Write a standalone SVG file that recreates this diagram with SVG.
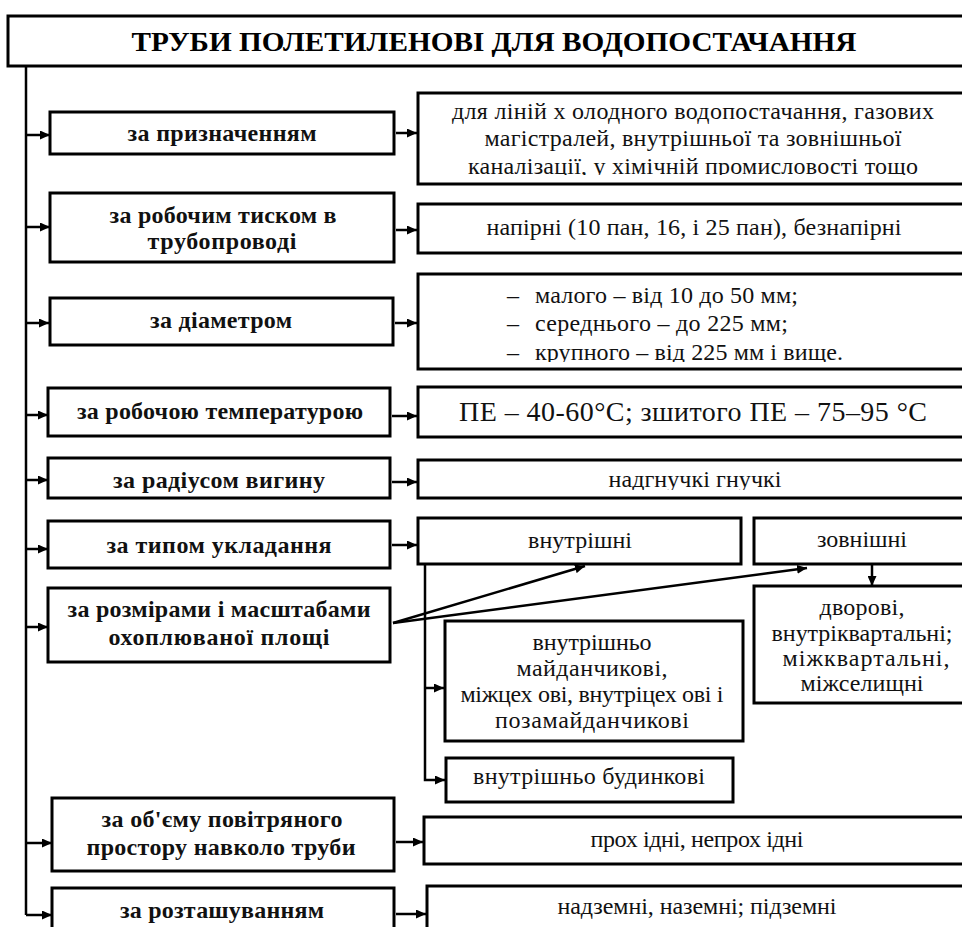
<svg xmlns="http://www.w3.org/2000/svg" width="962" height="927" viewBox="0 0 962 927">
<style>
.box{fill:#fff;stroke:#000;stroke-width:3}
.lb{font-family:"Liberation Serif","Times New Roman",serif;font-weight:bold;font-size:24px;text-anchor:middle;fill:#111}
.rt{font-family:"Liberation Serif","Times New Roman",serif;font-size:24px;text-anchor:middle;fill:#111}
.tt{font-family:"Liberation Serif","Times New Roman",serif;font-weight:bold;font-size:27px;text-anchor:middle;fill:#000}
.conn{stroke:#000;stroke-width:2.5;fill:none}
.arr{stroke:#000;stroke-width:2.5;fill:none;marker-end:url(#ah)}
</style>
<defs>
<marker id="ah" markerUnits="userSpaceOnUse" markerWidth="10" markerHeight="9" refX="10" refY="4.5" orient="auto">
<path d="M0,0 L10,4.5 L0,9 z" fill="#000"/>
</marker>
<clipPath id="c1"><rect x="418" y="93" width="560" height="82"/></clipPath>
<clipPath id="c3"><rect x="418" y="274" width="560" height="88"/></clipPath>
<clipPath id="c5"><rect x="418" y="460" width="560" height="30"/></clipPath>
</defs>
<rect width="962" height="927" fill="#fff"/>

<g id="title">
<rect class="box" x="8" y="16" width="970" height="50"/>
<text class="tt" x="494" y="51" textLength="725" lengthAdjust="spacingAndGlyphs">ТРУБИ ПОЛЕТИЛЕНОВІ ДЛЯ ВОДОПОСТАЧАННЯ</text>
</g>

<g id="connectors">
<path class="conn" d="M26,66 V915"/>
<path class="arr" d="M26,135 H50"/>
<path class="arr" d="M26,227 H50"/>
<path class="arr" d="M26,323 H49"/>
<path class="arr" d="M26,415 H48"/>
<path class="arr" d="M26,480 H48"/>
<path class="arr" d="M26,549 H48"/>
<path class="arr" d="M26,627 H48"/>
<path class="arr" d="M26,843 H52"/>
<path class="arr" d="M26,915 H52"/>
<path class="arr" d="M396,133 H417"/>
<path class="arr" d="M396,230 H417"/>
<path class="arr" d="M395,323 H417"/>
<path class="arr" d="M392,416 H417"/>
<path class="arr" d="M392,482 H417"/>
<path class="arr" d="M392,545 H417"/>
<path class="arr" d="M396,842 H423"/>
<path class="arr" d="M396,914 H426"/>
<path class="arr" d="M393,623 L585,566"/>
<path class="arr" d="M393,623 L807,568"/>
<path class="arr" d="M425,564 V780 H445"/>
<path class="arr" d="M425,688 H444"/>
<path class="arr" d="M872,564 V586"/>
</g>

<g id="l1"><rect class="box" x="50" y="112" width="344" height="42"/>
<text class="lb" x="222" y="141" textLength="189" lengthAdjust="spacing">за призначенням</text></g>
<g id="l2"><rect class="box" x="50" y="193" width="344" height="69"/>
<text class="lb" x="223" y="223" textLength="227" lengthAdjust="spacing">за робочим тиском в</text>
<text class="lb" x="222" y="249" textLength="149" lengthAdjust="spacing">трубопроводі</text></g>
<g id="l3"><rect class="box" x="50" y="298" width="343" height="47"/>
<text class="lb" x="221" y="328" textLength="142" lengthAdjust="spacing">за діаметром</text></g>
<g id="l4"><rect class="box" x="48" y="388" width="342" height="48"/>
<text class="lb" x="220" y="419" textLength="286" lengthAdjust="spacing">за робочою температурою</text></g>
<g id="l5"><rect class="box" x="48" y="458" width="342" height="40"/>
<text class="lb" x="219" y="488" textLength="212" lengthAdjust="spacing">за радіусом вигину</text></g>
<g id="l6"><rect class="box" x="48" y="521" width="342" height="47"/>
<text class="lb" x="219" y="553" textLength="225" lengthAdjust="spacing">за типом укладання</text></g>
<g id="l7"><rect class="box" x="48" y="588" width="342" height="74"/>
<text class="lb" x="219" y="617" textLength="303" lengthAdjust="spacing">за розмірами і масштабами</text>
<text class="lb" x="219" y="645" textLength="221" lengthAdjust="spacing">охоплюваної площі</text></g>
<g id="l8"><rect class="box" x="52" y="798" width="342" height="73"/>
<text class="lb" x="222" y="827" textLength="241" lengthAdjust="spacing">за об'єму повітряного</text>
<text class="lb" x="221" y="855" textLength="269" lengthAdjust="spacing">простору навколо труби</text></g>
<g id="l9"><rect class="box" x="52" y="888" width="342" height="60"/>
<text class="lb" x="222" y="918" textLength="204" lengthAdjust="spacing">за розташуванням</text></g>

<g id="r1"><rect class="box" x="418" y="93" width="552" height="91"/>
<g clip-path="url(#c1)">
<text class="rt" x="693" y="119" textLength="482" lengthAdjust="spacing">для ліній х олодного водопостачання, газових</text>
<text class="rt" x="693" y="146" textLength="417" lengthAdjust="spacing">магістралей, внутрішньої та зовнішньої</text>
<text class="rt" x="693" y="174" textLength="450" lengthAdjust="spacing">каналізації, у хімічній промисловості тощо</text>
</g></g>
<g id="r2"><rect class="box" x="418" y="204" width="552" height="49"/>
<text class="rt" x="694" y="235" textLength="415" lengthAdjust="spacing">напірні (10 пан, 16, і 25 пан), безнапірні</text></g>
<g id="r3"><rect class="box" x="418" y="274" width="552" height="95"/>
<g clip-path="url(#c3)">
<text class="rt" x="507" y="303" style="text-anchor:start">–</text>
<text class="rt" x="535" y="303" style="text-anchor:start" textLength="263" lengthAdjust="spacing">малого – від 10 до 50 мм;</text>
<text class="rt" x="507" y="331" style="text-anchor:start">–</text>
<text class="rt" x="535" y="331" style="text-anchor:start" textLength="253" lengthAdjust="spacing">середнього – до 225 мм;</text>
<text class="rt" x="507" y="360" style="text-anchor:start">–</text>
<text class="rt" x="535" y="360" style="text-anchor:start" textLength="308" lengthAdjust="spacing">крупного – від 225 мм і вище.</text>
</g></g>
<g id="r4"><rect class="box" x="418" y="387" width="552" height="50"/>
<text class="rt" x="693" y="421" style="font-size:28px" textLength="468" lengthAdjust="spacing">ПЕ – 40-60°C; зшитого ПЕ – 75–95 °C</text></g>
<g id="r5"><rect class="box" x="418" y="460" width="552" height="38"/>
<g clip-path="url(#c5)"><text class="rt" x="695" y="487" textLength="173" lengthAdjust="spacing">надгнучкі гнучкі</text></g></g>
<g id="r6a"><rect class="box" x="418" y="518" width="323" height="46"/>
<text class="rt" x="580" y="548" textLength="104" lengthAdjust="spacing">внутрішні</text></g>
<g id="r6b"><rect class="box" x="754" y="518" width="216" height="46"/>
<text class="rt" x="862" y="547" textLength="90" lengthAdjust="spacing">зовнішні</text></g>
<g id="r7"><rect class="box" x="754" y="586" width="216" height="117"/>
<text class="rt" x="862" y="615" textLength="85" lengthAdjust="spacing">дворові,</text>
<text class="rt" x="862" y="641" textLength="181" lengthAdjust="spacing">внутріквартальні;</text>
<text class="rt" x="866" y="666" textLength="167" lengthAdjust="spacing">міжквартальні,</text>
<text class="rt" x="862" y="691" textLength="123" lengthAdjust="spacing">міжселищні</text></g>
<g id="r8"><rect class="box" x="445" y="621" width="298" height="120"/>
<text class="rt" x="592" y="650" textLength="119" lengthAdjust="spacing">внутрішньо</text>
<text class="rt" x="592" y="676" textLength="151" lengthAdjust="spacing">майданчикові,</text>
<text class="rt" x="592" y="702" textLength="263" lengthAdjust="spacing">міжцех ові,  внутріцех ові і</text>
<text class="rt" x="592" y="728" textLength="194" lengthAdjust="spacing">позамайданчикові</text></g>
<g id="r9"><rect class="box" x="446" y="758" width="287" height="44"/>
<text class="rt" x="589" y="784" textLength="232" lengthAdjust="spacing">внутрішньо будинкові</text></g>
<g id="r10"><rect class="box" x="424" y="817" width="546" height="47"/>
<text class="rt" x="697" y="847" textLength="213" lengthAdjust="spacing">прох ідні, непрох ідні</text></g>
<g id="r11"><rect class="box" x="427" y="886" width="543" height="60"/>
<text class="rt" x="697" y="914" textLength="279" lengthAdjust="spacing">надземні, наземні; підземні</text></g>
</svg>
